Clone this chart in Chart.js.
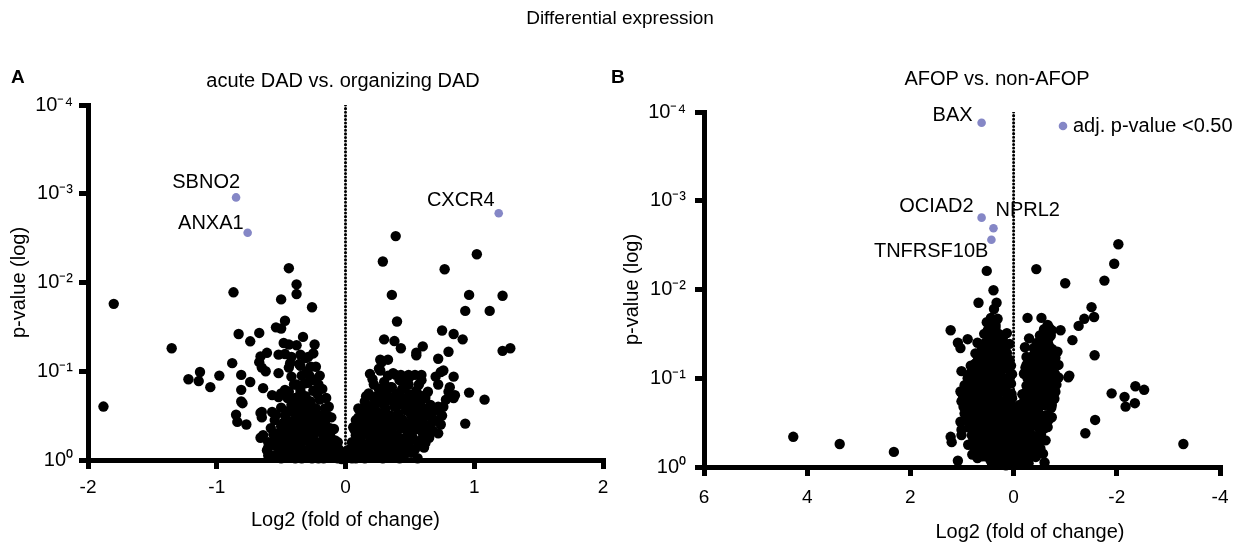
<!DOCTYPE html>
<html lang="en">
  <head>
    <meta charset="UTF-8" />
    <title>Differential expression</title>
    <script src="https://cdn.jsdelivr.net/npm/chart.js@4.4.1/dist/chart.umd.min.js"></script>
    <style>
      body { margin: 0; background: #fff; }
      #page { position: relative; width: 1240px; height: 544px; font-family: "Liberation Sans", Arial, Helvetica, sans-serif; color: #000; }
      canvas { position: absolute; top: 0; }
      .txt { position: absolute; white-space: nowrap; font-size: 20px; line-height: 24px; text-align: center; width: 300px; }
      .tag { position: absolute; top: 66px; font-size: 19px; line-height: 22px; font-weight: bold; }
    </style>
  </head>
  <body>
    <div id="page">
      <canvas id="chartA" width="620" height="544" style="left:0"></canvas>
      <canvas id="chartB" width="620" height="544" style="left:620px"></canvas>
      <div class="txt" style="left:470px; top:6px; font-size:19px">Differential expression</div>
      <div class="tag" style="left:11px">A</div>
      <div class="tag" style="left:611px">B</div>
      <div class="txt" style="left:193px; top:68px">acute DAD vs. organizing DAD</div>
      <div class="txt" style="left:847px; top:66px">AFOP vs. non-AFOP</div>
      <div class="txt" style="left:880px; top:519px">Log2 (fold of change)</div>
    </div>
    <script>
      // p-value ticks (axis is reversed, 10^0 at the bottom)
      const pTicks = [0.0001, 0.001, 0.01, 0.1, 1];
      const pTickLabels = ["10⁻⁴", "10⁻³", "10⁻²", "10⁻¹", "10⁰"];
      const xTicksA = [-2, -1, 0, 1, 2];
      const xTicksB = [6, 4, 2, 0, -2, -4];
      const zeroLineP = [0.0001, 1];

      // panel A: acute DAD vs. organizing DAD  [log2 fold change, p-value]
      const hitNamesA = ["SBNO2", "ANXA1", "CXCR4"];
      const hitsA = [[-0.85, 0.0011], [-0.76, 0.00275], [1.19, 0.00166]];
      const pointsA = [
        [-1.88, 0.25], [-1.80, 0.0174], [-1.35, 0.055], [-1.22, 0.123], [-1.13, 0.102], [-1.14, 0.129], [-1.05, 0.151], [-0.98, 0.112],
        [-0.88, 0.081], [-0.87, 0.0129], [-0.85, 0.309], [-0.84, 0.372], [-0.83, 0.038], [-0.81, 0.11], [-0.81, 0.162], [-0.81, 0.219],
        [-0.80, 0.229], [-0.77, 0.398], [-0.74, 0.132], [-0.74, 0.046], [-0.67, 0.037], [-0.67, 0.079], [-0.66, 0.068], [-0.66, 0.562],
        [-0.66, 0.295], [-0.65, 0.331], [-0.65, 0.091], [-0.65, 0.288], [-0.64, 0.525], [-0.64, 0.155], [-0.62, 0.10], [-0.61, 0.776],
        [-0.61, 0.062], [-0.60, 0.631], [-0.60, 0.724], [-0.57, 0.646], [-0.57, 0.186], [-0.57, 0.288], [-0.56, 0.513], [-0.54, 0.032],
        [-0.54, 0.309], [-0.53, 0.589], [-0.52, 0.065], [-0.52, 0.105], [-0.52, 0.195], [-0.50, 0.0155], [-0.50, 0.033], [-0.50, 0.617],
        [-0.50, 0.257], [-0.50, 0.178], [-0.50, 0.708], [-0.48, 0.048], [-0.48, 0.38], [-0.47, 0.027], [-0.47, 0.064], [-0.47, 0.162],
        [-0.47, 0.427], [-0.46, 0.813], [-0.44, 0.0069], [-0.44, 0.05], [-0.44, 0.091], [-0.44, 0.17], [-0.43, 0.081], [-0.42, 0.069],
        [-0.42, 0.115], [-0.42, 0.479], [-0.42, 0.24], [-0.38, 0.0105], [-0.38, 0.0135], [-0.38, 0.051], [-0.38, 0.141], [-0.38, 0.209],
        [-0.35, 0.065], [-0.35, 0.087], [-0.36, 0.083], [-0.33, 0.041], [-0.29, 0.069], [-0.29, 0.135], [-0.26, 0.019], [-0.21, 0.141],
        [-0.20, 0.112], [-0.23, 0.089], [-0.27, 0.12], [-0.25, 0.063], [-0.30, 0.10], [-0.15, 0.20], [-0.13, 0.251], [-0.22, 0.178],
        [-0.11, 0.331],
        [-0.02, 0.933], [-0.04, 0.832], [-0.06, 0.955], [-0.07, 0.759], [-0.09, 0.891], [-0.10, 0.631], [-0.11, 0.794], [-0.12, 0.525],
        [-0.13, 0.933], [-0.14, 0.676], [-0.15, 0.447], [-0.16, 0.832], [-0.17, 0.562], [-0.18, 0.38], [-0.19, 0.741], [-0.20, 0.468],
        [-0.21, 0.955], [-0.21, 0.316], [-0.22, 0.631], [-0.23, 0.398], [-0.24, 0.832], [-0.24, 0.263], [-0.25, 0.525], [-0.26, 0.339],
        [-0.27, 0.708], [-0.27, 0.219], [-0.28, 0.437], [-0.29, 0.912], [-0.29, 0.282], [-0.30, 0.603], [-0.31, 0.191], [-0.31, 0.372],
        [-0.32, 0.776], [-0.33, 0.24], [-0.33, 0.501], [-0.34, 0.316], [-0.35, 0.661], [-0.35, 0.166], [-0.36, 0.417], [-0.36, 0.871],
        [-0.37, 0.263], [-0.38, 0.55], [-0.39, 0.347], [-0.39, 0.20], [-0.40, 0.724], [-0.41, 0.457], [-0.42, 0.282], [-0.43, 0.912],
        [-0.43, 0.603], [-0.44, 0.363], [-0.45, 0.759], [-0.46, 0.501], [-0.47, 0.316], [-0.48, 0.631], [-0.50, 0.417], [-0.52, 0.832],
        [-0.53, 0.501], [-0.55, 0.355], [-0.58, 0.437], [-0.60, 0.891],
        [-0.01, 0.871], [-0.03, 0.977], [-0.05, 0.759], [-0.08, 0.912], [-0.08, 0.603], [-0.10, 0.759], [-0.12, 0.912], [-0.12, 0.437],
        [-0.14, 0.55], [-0.15, 0.759], [-0.16, 0.38], [-0.17, 0.955], [-0.18, 0.501], [-0.19, 0.316], [-0.20, 0.661], [-0.22, 0.832],
        [-0.22, 0.38], [-0.23, 0.263], [-0.24, 0.501], [-0.25, 0.724], [-0.26, 0.316], [-0.26, 0.955], [-0.28, 0.575], [-0.28, 0.24],
        [-0.29, 0.38], [-0.30, 0.794], [-0.31, 0.501], [-0.32, 0.302], [-0.33, 0.20], [-0.34, 0.631], [-0.34, 0.398], [-0.36, 0.251],
        [-0.37, 0.759], [-0.37, 0.501], [-0.38, 0.331], [-0.39, 0.955], [-0.40, 0.603], [-0.41, 0.24], [-0.42, 0.398], [-0.44, 0.525],
        [-0.45, 0.282], [-0.46, 0.912], [-0.46, 0.661], [-0.48, 0.398], [-0.49, 0.794], [-0.51, 0.525], [-0.54, 0.692], [-0.56, 0.891],
        [-0.20, 0.209], [-0.25, 0.166], [-0.32, 0.138], [-0.28, 0.112], [-0.16, 0.263],
        [-0.24, 0.126], [-0.18, 0.158], [-0.27, 0.089], [-0.34, 0.112], [-0.40, 0.141], [-0.31, 0.071], [-0.24, 0.05], [-0.36, 0.191],
        [-0.45, 0.20], [-0.14, 0.316], [-0.09, 0.447], [-0.06, 0.631], [-0.41, 0.891], [-0.34, 0.955], [-0.50, 0.955],
        [0.02, 0.912], [0.03, 0.759], [0.05, 0.955], [0.05, 0.631], [0.07, 0.832], [0.08, 0.525], [0.09, 0.708], [0.10, 0.933],
        [0.11, 0.437], [0.12, 0.603], [0.13, 0.794], [0.14, 0.363], [0.15, 0.501], [0.16, 0.891], [0.17, 0.302], [0.17, 0.676],
        [0.18, 0.417], [0.19, 0.55], [0.20, 0.251], [0.20, 0.813], [0.21, 0.355], [0.22, 0.468], [0.23, 0.708], [0.24, 0.282],
        [0.24, 0.933], [0.25, 0.398], [0.26, 0.575], [0.27, 0.224], [0.28, 0.794], [0.28, 0.331], [0.29, 0.479], [0.30, 0.661],
        [0.31, 0.263], [0.32, 0.891], [0.32, 0.398], [0.33, 0.55], [0.34, 0.209], [0.35, 0.741], [0.35, 0.316], [0.36, 0.457],
        [0.37, 0.631], [0.38, 0.251], [0.39, 0.832], [0.39, 0.38], [0.40, 0.525], [0.41, 0.302], [0.42, 0.692], [0.43, 0.437],
        [0.44, 0.347], [0.45, 0.575], [0.46, 0.871], [0.47, 0.275], [0.48, 0.479], [0.49, 0.661], [0.50, 0.38], [0.52, 0.55],
        [0.53, 0.316], [0.54, 0.759], [0.55, 0.447], [0.57, 0.363], [0.58, 0.603], [0.60, 0.501], [0.62, 0.417], [0.65, 0.562],
        [0.68, 0.468], [0.70, 0.355], [0.66, 0.302], [0.63, 0.263], [0.58, 0.24], [0.52, 0.219], [0.45, 0.20], [0.40, 0.178],
        [0.35, 0.151], [0.30, 0.132], [0.26, 0.158], [0.22, 0.141], [0.18, 0.178], [0.15, 0.219], [0.12, 0.282], [0.55, 0.166],
        [0.62, 0.20], [0.48, 0.132], [0.42, 0.126],
        [0.01, 0.794], [0.04, 0.891], [0.06, 0.724], [0.07, 0.457], [0.09, 0.575], [0.11, 0.871], [0.12, 0.347], [0.13, 0.501],
        [0.14, 0.692], [0.15, 0.955], [0.16, 0.417], [0.16, 0.263], [0.18, 0.794], [0.19, 0.331], [0.20, 0.501], [0.21, 0.631],
        [0.22, 0.24], [0.22, 0.891], [0.23, 0.316], [0.25, 0.759], [0.26, 0.457], [0.27, 0.302], [0.28, 0.631], [0.29, 0.955],
        [0.30, 0.38], [0.30, 0.24], [0.31, 0.794], [0.33, 0.457], [0.34, 0.316], [0.34, 0.661], [0.36, 0.912], [0.37, 0.38],
        [0.38, 0.525], [0.40, 0.759], [0.41, 0.24], [0.42, 0.363], [0.43, 0.575], [0.44, 0.871], [0.46, 0.417], [0.47, 0.692],
        [0.48, 0.24], [0.50, 0.525], [0.51, 0.832], [0.51, 0.316], [0.53, 0.417], [0.56, 0.631], [0.56, 0.288], [0.60, 0.38],
        [0.61, 0.724], [0.64, 0.479], [0.67, 0.38], [0.72, 0.501], [0.74, 0.398], [0.70, 0.275], [0.62, 0.316], [0.38, 0.20],
        [0.32, 0.174], [0.50, 0.182],
        [0.08, 0.355], [0.10, 0.263], [0.16, 0.191], [0.24, 0.191], [0.29, 0.158], [0.44, 0.158], [0.53, 0.251], [0.66, 0.24],
        [0.75, 0.316], [0.56, 0.955], [0.42, 0.955], [0.08, 0.955], [0.33, 0.112],
        [0.39, 0.0030], [0.29, 0.0058], [0.77, 0.0071], [1.02, 0.0048], [0.36, 0.0138], [0.96, 0.0138], [1.22, 0.0141], [0.93, 0.0209],
        [1.12, 0.0209], [0.40, 0.0275], [0.75, 0.0347], [0.84, 0.038], [0.91, 0.0437], [0.30, 0.0437], [0.38, 0.0457], [0.43, 0.055],
        [0.60, 0.0525], [0.55, 0.0661], [0.80, 0.0603], [1.22, 0.0589], [1.28, 0.055], [0.27, 0.0741], [0.33, 0.0741], [0.72, 0.0724],
        [0.26, 0.0933], [0.19, 0.107], [0.21, 0.123], [0.39, 0.11], [0.43, 0.11], [0.49, 0.11], [0.54, 0.11], [0.59, 0.11],
        [0.74, 0.102], [0.70, 0.115], [0.84, 0.115], [0.49, 0.141], [0.57, 0.141], [0.81, 0.151], [0.96, 0.174], [1.08, 0.209],
        [0.84, 0.20], [0.62, 0.186], [0.54, 0.209], [0.22, 0.20], [0.27, 0.195], [0.39, 0.186], [0.46, 0.229], [0.76, 0.251],
        [0.93, 0.389], [0.68, 0.355], [0.63, 0.427], [0.59, 0.309], [0.62, 0.646], [0.47, 0.776],
        [0.55, 0.0617], [0.28, 0.0794], [0.27, 0.098], [0.37, 0.105], [0.50, 0.115], [0.59, 0.126], [0.76, 0.098], [0.72, 0.141],
        [0.36, 0.151], [0.46, 0.155], [0.57, 0.186], [0.64, 0.17], [0.80, 0.17], [0.85, 0.186], [0.31, 0.224], [0.41, 0.229],
        [0.49, 0.209], [0.78, 0.209], [0.72, 0.251], [0.67, 0.295], [0.60, 0.372], [0.49, 0.407], [0.46, 0.724], [0.14, 0.275],
        [0.10, 0.331], [0.06, 0.427]
      ];

      // panel B: AFOP vs. non-AFOP (x axis runs from 6 down to -4)
      const hitNamesB = ["BAX", "OCIAD2", "NPRL2", "TNFRSF10B"];
      const hitsB = [[0.62, 0.000132], [0.62, 0.00155], [0.39, 0.00204], [0.43, 0.00275]];
      const pointsB = [
        [4.27, 0.457], [3.37, 0.55], [2.32, 0.676], [-3.29, 0.55],
        [-2.53, 0.135], [-2.36, 0.123], [-2.35, 0.191], [-2.17, 0.209], [-2.15, 0.162], [-1.90, 0.148], [-2.03, 0.00309], [-1.95, 0.00513],
        [-1.76, 0.00794], [-1.58, 0.295], [-1.39, 0.417], [-1.57, 0.055], [-1.56, 0.0204], [-1.51, 0.0158], [-1.37, 0.0214], [-1.26, 0.0257],
        [-1.14, 0.0372], [-1.08, 0.0933], [-1.06, 0.0977], [-1.00, 0.0085], [-0.91, 0.0288], [-0.87, 0.0708], [-0.81, 0.0589], [-0.74, 0.0288],
        [-0.74, 0.20], [-0.74, 0.275], [-0.71, 0.126], [-0.68, 0.0355], [-0.62, 0.0479], [-0.62, 0.0813], [-0.54, 0.0209], [-0.52, 0.617],
        [-0.48, 0.0977], [-0.44, 0.00589], [-0.39, 0.0457], [-0.27, 0.0209], [-0.25, 0.0575], [-0.23, 0.0759],
        [0.29, 0.112], [0.31, 0.0214], [0.33, 0.0141], [0.33, 0.0389], [0.35, 0.0741], [0.39, 0.0102], [0.41, 0.0437], [0.44, 0.0209],
        [0.48, 0.0977], [0.50, 0.0288], [0.52, 0.00617], [0.52, 0.0234], [0.52, 0.0708], [0.58, 0.0575], [0.64, 0.155], [0.68, 0.0141],
        [0.68, 0.468], [0.70, 0.0398], [0.73, 0.0676], [0.83, 0.0724], [0.87, 0.0912], [0.87, 0.219], [0.89, 0.0363], [1.01, 0.0832],
        [1.01, 0.182], [1.01, 0.38], [1.01, 0.437], [1.03, 0.0457], [1.03, 0.141], [1.03, 0.309], [1.08, 0.0398], [1.08, 0.851],
        [1.20, 0.525], [1.22, 0.0288], [1.22, 0.457],
        [0.05, 0.891], [0.10, 0.708], [0.15, 0.955], [0.20, 0.794], [0.25, 0.603], [0.30, 0.871], [0.35, 0.692], [0.40, 0.501],
        [0.45, 0.832], [0.50, 0.631], [0.55, 0.447], [0.60, 0.759], [0.65, 0.562], [0.70, 0.794], [0.75, 0.631], [0.80, 0.724],
        [0.08, 0.501], [0.12, 0.38], [0.18, 0.447], [0.22, 0.316], [0.28, 0.398], [0.33, 0.282], [0.38, 0.355], [0.43, 0.251],
        [0.48, 0.38], [0.53, 0.282], [0.58, 0.355], [0.63, 0.251], [0.68, 0.398], [0.73, 0.302], [0.78, 0.479], [0.85, 0.355],
        [0.90, 0.251], [0.88, 0.562], [0.95, 0.20], [0.15, 0.251], [0.20, 0.191], [0.26, 0.224], [0.31, 0.158], [0.36, 0.20],
        [0.41, 0.141], [0.46, 0.178], [0.51, 0.126], [0.56, 0.166], [0.61, 0.12], [0.66, 0.178], [0.71, 0.132], [0.76, 0.20],
        [0.81, 0.151], [0.86, 0.112], [0.92, 0.141], [0.18, 0.126], [0.24, 0.10], [0.30, 0.0891], [0.34, 0.0832], [0.39, 0.10],
        [0.44, 0.0708], [0.49, 0.0891], [0.54, 0.0631], [0.59, 0.0832], [0.64, 0.0603], [0.69, 0.0759], [0.74, 0.0525], [0.79, 0.0891],
        [0.22, 0.0631], [0.27, 0.0501], [0.32, 0.0603], [0.37, 0.0417], [0.42, 0.0501], [0.47, 0.0355], [0.52, 0.0447], [0.57, 0.0316],
        [0.62, 0.0479], [0.30, 0.0316], [0.35, 0.0251], [0.40, 0.0302], [0.45, 0.0224], [0.38, 0.0166], [0.12, 0.158], [0.10, 0.224],
        [0.06, 0.355], [0.04, 0.562], [0.02, 0.759],
        [-0.03, 0.832], [-0.08, 0.631], [-0.12, 0.891], [-0.17, 0.708], [-0.22, 0.525], [-0.27, 0.832], [-0.32, 0.631], [-0.37, 0.447],
        [-0.42, 0.759], [-0.47, 0.562], [-0.52, 0.398], [-0.57, 0.708], [-0.62, 0.501], [-0.66, 0.355], [-0.60, 0.891], [-0.06, 0.447],
        [-0.10, 0.331], [-0.15, 0.398], [-0.20, 0.282], [-0.25, 0.355], [-0.30, 0.251], [-0.35, 0.316], [-0.40, 0.224], [-0.45, 0.302],
        [-0.50, 0.209], [-0.55, 0.282], [-0.60, 0.20], [-0.65, 0.263], [-0.70, 0.178], [-0.12, 0.20], [-0.17, 0.151], [-0.22, 0.178],
        [-0.27, 0.126], [-0.32, 0.151], [-0.37, 0.112], [-0.42, 0.141], [-0.47, 0.10], [-0.52, 0.126], [-0.57, 0.0891], [-0.62, 0.112],
        [-0.67, 0.141], [-0.75, 0.112], [-0.80, 0.0891], [-0.20, 0.0891], [-0.25, 0.0708], [-0.30, 0.0631], [-0.35, 0.0794], [-0.40, 0.0562],
        [-0.45, 0.0708], [-0.50, 0.0501], [-0.55, 0.0631], [-0.60, 0.0417], [-0.65, 0.0562], [-0.70, 0.0447], [-0.75, 0.0631], [-0.85, 0.0501],
        [-0.22, 0.0447], [-0.30, 0.0355], [-0.58, 0.0302], [-0.66, 0.0251], [-0.72, 0.0331], [-0.05, 0.661],
        [0.42, 0.91], [0.31, 0.93], [0.19, 0.90], [0.07, 0.92], [-0.05, 0.90], [-0.17, 0.93], [-0.29, 0.91],
        [0.53, 0.76], [0.41, 0.74], [0.27, 0.77], [0.17, 0.75], [0.03, 0.77], [-0.09, 0.74], [-0.21, 0.77], [-0.33, 0.75], [-0.43, 0.77],
        [0.67, 0.63], [0.55, 0.61], [0.43, 0.64], [0.29, 0.62], [0.19, 0.64], [0.05, 0.61], [-0.07, 0.64], [-0.19, 0.62], [-0.31, 0.64], [-0.43, 0.61],
        [0.75, 0.52], [0.63, 0.54], [0.49, 0.51], [0.39, 0.53], [0.25, 0.52], [0.15, 0.54], [0.01, 0.51], [-0.11, 0.53], [-0.23, 0.52],
        [-0.35, 0.54], [-0.47, 0.51],
        [0.81, 0.44], [0.69, 0.43], [0.55, 0.45], [0.45, 0.43], [0.31, 0.44], [0.21, 0.42], [0.07, 0.45], [-0.05, 0.43], [-0.17, 0.44],
        [-0.29, 0.42], [-0.41, 0.45], [-0.53, 0.43],
        [0.87, 0.36], [0.73, 0.37], [0.63, 0.35], [0.49, 0.37], [0.39, 0.36], [0.25, 0.35], [0.15, 0.37], [0.01, 0.36], [-0.11, 0.35],
        [-0.23, 0.37], [-0.33, 0.36], [-0.47, 0.35], [-0.59, 0.37],
        [0.91, 0.30], [0.77, 0.31], [0.67, 0.29], [0.53, 0.31], [0.43, 0.30], [0.29, 0.29], [0.19, 0.31], [0.05, 0.30], [-0.07, 0.29],
        [-0.19, 0.31], [-0.29, 0.30], [-0.43, 0.29], [-0.53, 0.31], [-0.67, 0.30],
        [0.95, 0.25], [0.81, 0.26], [0.71, 0.24], [0.57, 0.25], [0.47, 0.26], [0.33, 0.24], [0.23, 0.25], [0.09, 0.26], [-0.03, 0.24],
        [-0.15, 0.25], [-0.25, 0.26], [-0.39, 0.24], [-0.49, 0.25], [-0.63, 0.26],
        [0.97, 0.21], [0.83, 0.20], [0.73, 0.215], [0.59, 0.205], [0.49, 0.21], [0.35, 0.20], [0.25, 0.215], [0.11, 0.205], [-0.01, 0.21],
        [-0.13, 0.20], [-0.25, 0.215], [-0.35, 0.205], [-0.49, 0.21], [-0.59, 0.20], [-0.73, 0.215],
        [0.99, 0.175], [0.85, 0.17], [0.75, 0.178], [0.61, 0.172], [0.51, 0.176], [0.37, 0.17], [0.27, 0.178], [0.13, 0.172], [0.03, 0.168],
        [-0.21, 0.176], [-0.31, 0.17], [-0.45, 0.178], [-0.55, 0.172], [-0.69, 0.176], [-0.79, 0.17],
        [1.01, 0.145], [0.87, 0.142], [0.77, 0.148], [0.63, 0.144], [0.53, 0.146], [0.39, 0.142], [0.29, 0.147], [0.15, 0.143], [0.04, 0.15],
        [-0.23, 0.146], [-0.33, 0.142], [-0.47, 0.147], [-0.57, 0.143], [-0.71, 0.146], [-0.81, 0.142],
        [0.95, 0.12], [0.85, 0.118], [0.71, 0.122], [0.61, 0.119], [0.47, 0.121], [0.37, 0.118], [0.25, 0.122], [0.13, 0.119], [0.05, 0.115],
        [-0.25, 0.121], [-0.37, 0.118], [-0.49, 0.122], [-0.59, 0.119], [-0.73, 0.121], [-0.83, 0.118],
        [0.89, 0.1], [0.79, 0.098], [0.65, 0.102], [0.55, 0.099], [0.41, 0.101], [0.31, 0.098], [0.17, 0.102], [0.08, 0.096], [0.03, 0.09],
        [-0.27, 0.1], [-0.39, 0.098], [-0.49, 0.102], [-0.63, 0.099], [-0.73, 0.101], [-0.87, 0.098],
        [0.81, 0.083], [0.71, 0.081], [0.57, 0.085], [0.47, 0.082], [0.33, 0.084], [0.23, 0.081], [0.11, 0.079], [0.05, 0.072],
        [-0.29, 0.083], [-0.41, 0.081], [-0.51, 0.085], [-0.65, 0.082], [-0.75, 0.084],
        [0.75, 0.069], [0.65, 0.067], [0.51, 0.071], [0.41, 0.068], [0.27, 0.07], [0.17, 0.067], [0.08, 0.062],
        [-0.31, 0.069], [-0.43, 0.067], [-0.53, 0.071], [-0.67, 0.068], [-0.77, 0.07],
        [0.69, 0.058], [0.59, 0.056], [0.45, 0.059], [0.35, 0.057], [0.23, 0.058], [0.13, 0.052],
        [-0.35, 0.057], [-0.45, 0.059], [-0.59, 0.056], [-0.69, 0.058],
        [0.61, 0.048], [0.51, 0.047], [0.37, 0.049], [0.27, 0.047], [0.16, 0.045], [0.08, 0.041],
        [-0.41, 0.048], [-0.51, 0.047], [-0.65, 0.049], [-0.75, 0.047],
        [0.55, 0.04], [0.45, 0.039], [0.31, 0.041], [0.21, 0.036], [0.13, 0.031],
        [-0.45, 0.04], [-0.57, 0.039], [-0.67, 0.041],
        [0.49, 0.033], [0.37, 0.034], [0.27, 0.032], [-0.51, 0.033], [-0.61, 0.034], [-0.71, 0.032],
        [0.43, 0.028], [0.35, 0.027], [-0.59, 0.028], [-0.69, 0.027]
      ];

      const hitColor = "#8587c6";
      const fontFamily = '"Liberation Sans", Arial, Helvetica, sans-serif';
      Chart.defaults.font.family = fontFamily;
      Chart.defaults.color = "#000";

      // writes gene names next to the highlighted points (and the legend in B)
      const hitLabels = {
        id: "hitLabels",
        afterDatasetsDraw(chart, args, opts) {
          const ctx = chart.ctx;
          const meta = chart.getDatasetMeta(0);
          ctx.save();
          ctx.font = "20px " + fontFamily;
          ctx.fillStyle = "#000";
          ctx.textBaseline = "middle";
          meta.data.forEach(function (pt, i) {
            const o = opts.offsets[i];
            ctx.textAlign = o[2];
            ctx.fillText(opts.names[i], pt.x + o[0], pt.y + o[1]);
          });
          if (opts.legend) {
            const a = chart.chartArea;
            const lx = a.left + opts.legend.dx;
            const ly = a.top + opts.legend.dy;
            ctx.fillStyle = hitColor;
            ctx.beginPath();
            ctx.arc(lx, ly, 4.3, 0, Math.PI * 2);
            ctx.fill();
            ctx.fillStyle = "#000";
            ctx.textAlign = "left";
            ctx.fillText(opts.legend.text, lx + 10, ly);
          }
          ctx.restore();
        },
      };

      function makePanel(id, o) {
        const axisBorder = { display: true, color: "#000", width: 5 };
        const axisGrid = { display: true, drawOnChartArea: false, drawTicks: true, tickLength: 9, tickWidth: 5, lineWidth: 5, color: "#000", tickColor: "#000" };
        return new Chart(document.getElementById(id), {
          type: "scatter",
          data: {
            datasets: [
              {
                data: o.hits.map((d) => ({ x: d[0], y: d[1] })),
                pointBackgroundColor: hitColor,
                pointBorderWidth: 0,
                pointRadius: 4.3,
                clip: false,
              },
              {
                data: o.points.map((d) => ({ x: d[0], y: d[1] })),
                pointBackgroundColor: "#000",
                pointBorderWidth: 0,
                pointRadius: 5.2,
                clip: false,
              },
              {
                type: "line",
                data: zeroLineP.map((p) => ({ x: 0, y: p })),
                borderColor: "#000",
                borderWidth: 3,
                borderDash: [0.1, 3.5],
                borderCapStyle: "round",
                pointRadius: 0,
                fill: false,
              },
            ],
          },
          options: {
            responsive: false,
            animation: false,
            events: [],
            layout: { padding: o.pad },
            plugins: {
              legend: { display: false },
              tooltip: { enabled: false },
              hitLabels: { names: o.names, offsets: o.offsets, legend: o.legend },
            },
            scales: {
              x: {
                type: "linear",
                min: o.xMin,
                max: o.xMax,
                reverse: o.xReverse,
                afterBuildTicks: (s) => { s.ticks = o.xTicks.map((v) => ({ value: v })); },
                afterFit: (s) => { s.height = o.xHeight; },
                border: axisBorder,
                grid: axisGrid,
                ticks: { font: { size: 19 }, color: "#000", padding: o.xPad },
                title: o.xTitle,
              },
              y: {
                type: "logarithmic",
                min: 0.0001,
                max: 1,
                reverse: true,
                afterBuildTicks: (s) => { s.ticks = pTicks.map((v) => ({ value: v })); },
                afterFit: (s) => { s.width = o.yWidth; },
                border: axisBorder,
                grid: axisGrid,
                ticks: {
                  font: { size: 20 },
                  color: "#000",
                  padding: o.yPad,
                  callback: (v) => pTickLabels[pTicks.indexOf(v)],
                },
                title: { display: true, text: "p-value (log)", font: { size: 20 }, color: "#000", padding: { top: o.yTitlePad, bottom: o.yTitlePad } },
              },
            },
          },
          plugins: [hitLabels],
        });
      }

      makePanel("chartA", {
        points: pointsA,
        hits: hitsA,
        names: hitNamesA,
        offsets: [[4, -14.5, "right"], [-4, -9, "right"], [-4, -12.5, "right"]],
        pad: { left: 0, right: 17, top: 105, bottom: 0 },
        xMin: -2, xMax: 2, xReverse: false, xTicks: xTicksA,
        xHeight: 84, yWidth: 88, xPad: 7, yPad: 6, yTitlePad: 7,
        xTitle: { display: true, text: "Log2 (fold of change)", font: { size: 20 }, color: "#000", padding: { top: 12, bottom: 12 } },
      });

      makePanel("chartB", {
        points: pointsB,
        hits: hitsB,
        names: hitNamesB,
        offsets: [[-9, -7, "right"], [-8, -11, "right"], [2, -17.5, "left"], [-3, 12, "right"]],
        legend: { dx: 359, dy: 14, text: "adj. p-value <0.50" },
        pad: { left: 0, right: 20, top: 112, bottom: 0 },
        xMin: -4, xMax: 6, xReverse: true, xTicks: xTicksB,
        xHeight: 77, yWidth: 84, xPad: 10, yPad: 9, yTitlePad: 0,
        xTitle: { display: false },
      });
    </script>
  </body>
</html>
